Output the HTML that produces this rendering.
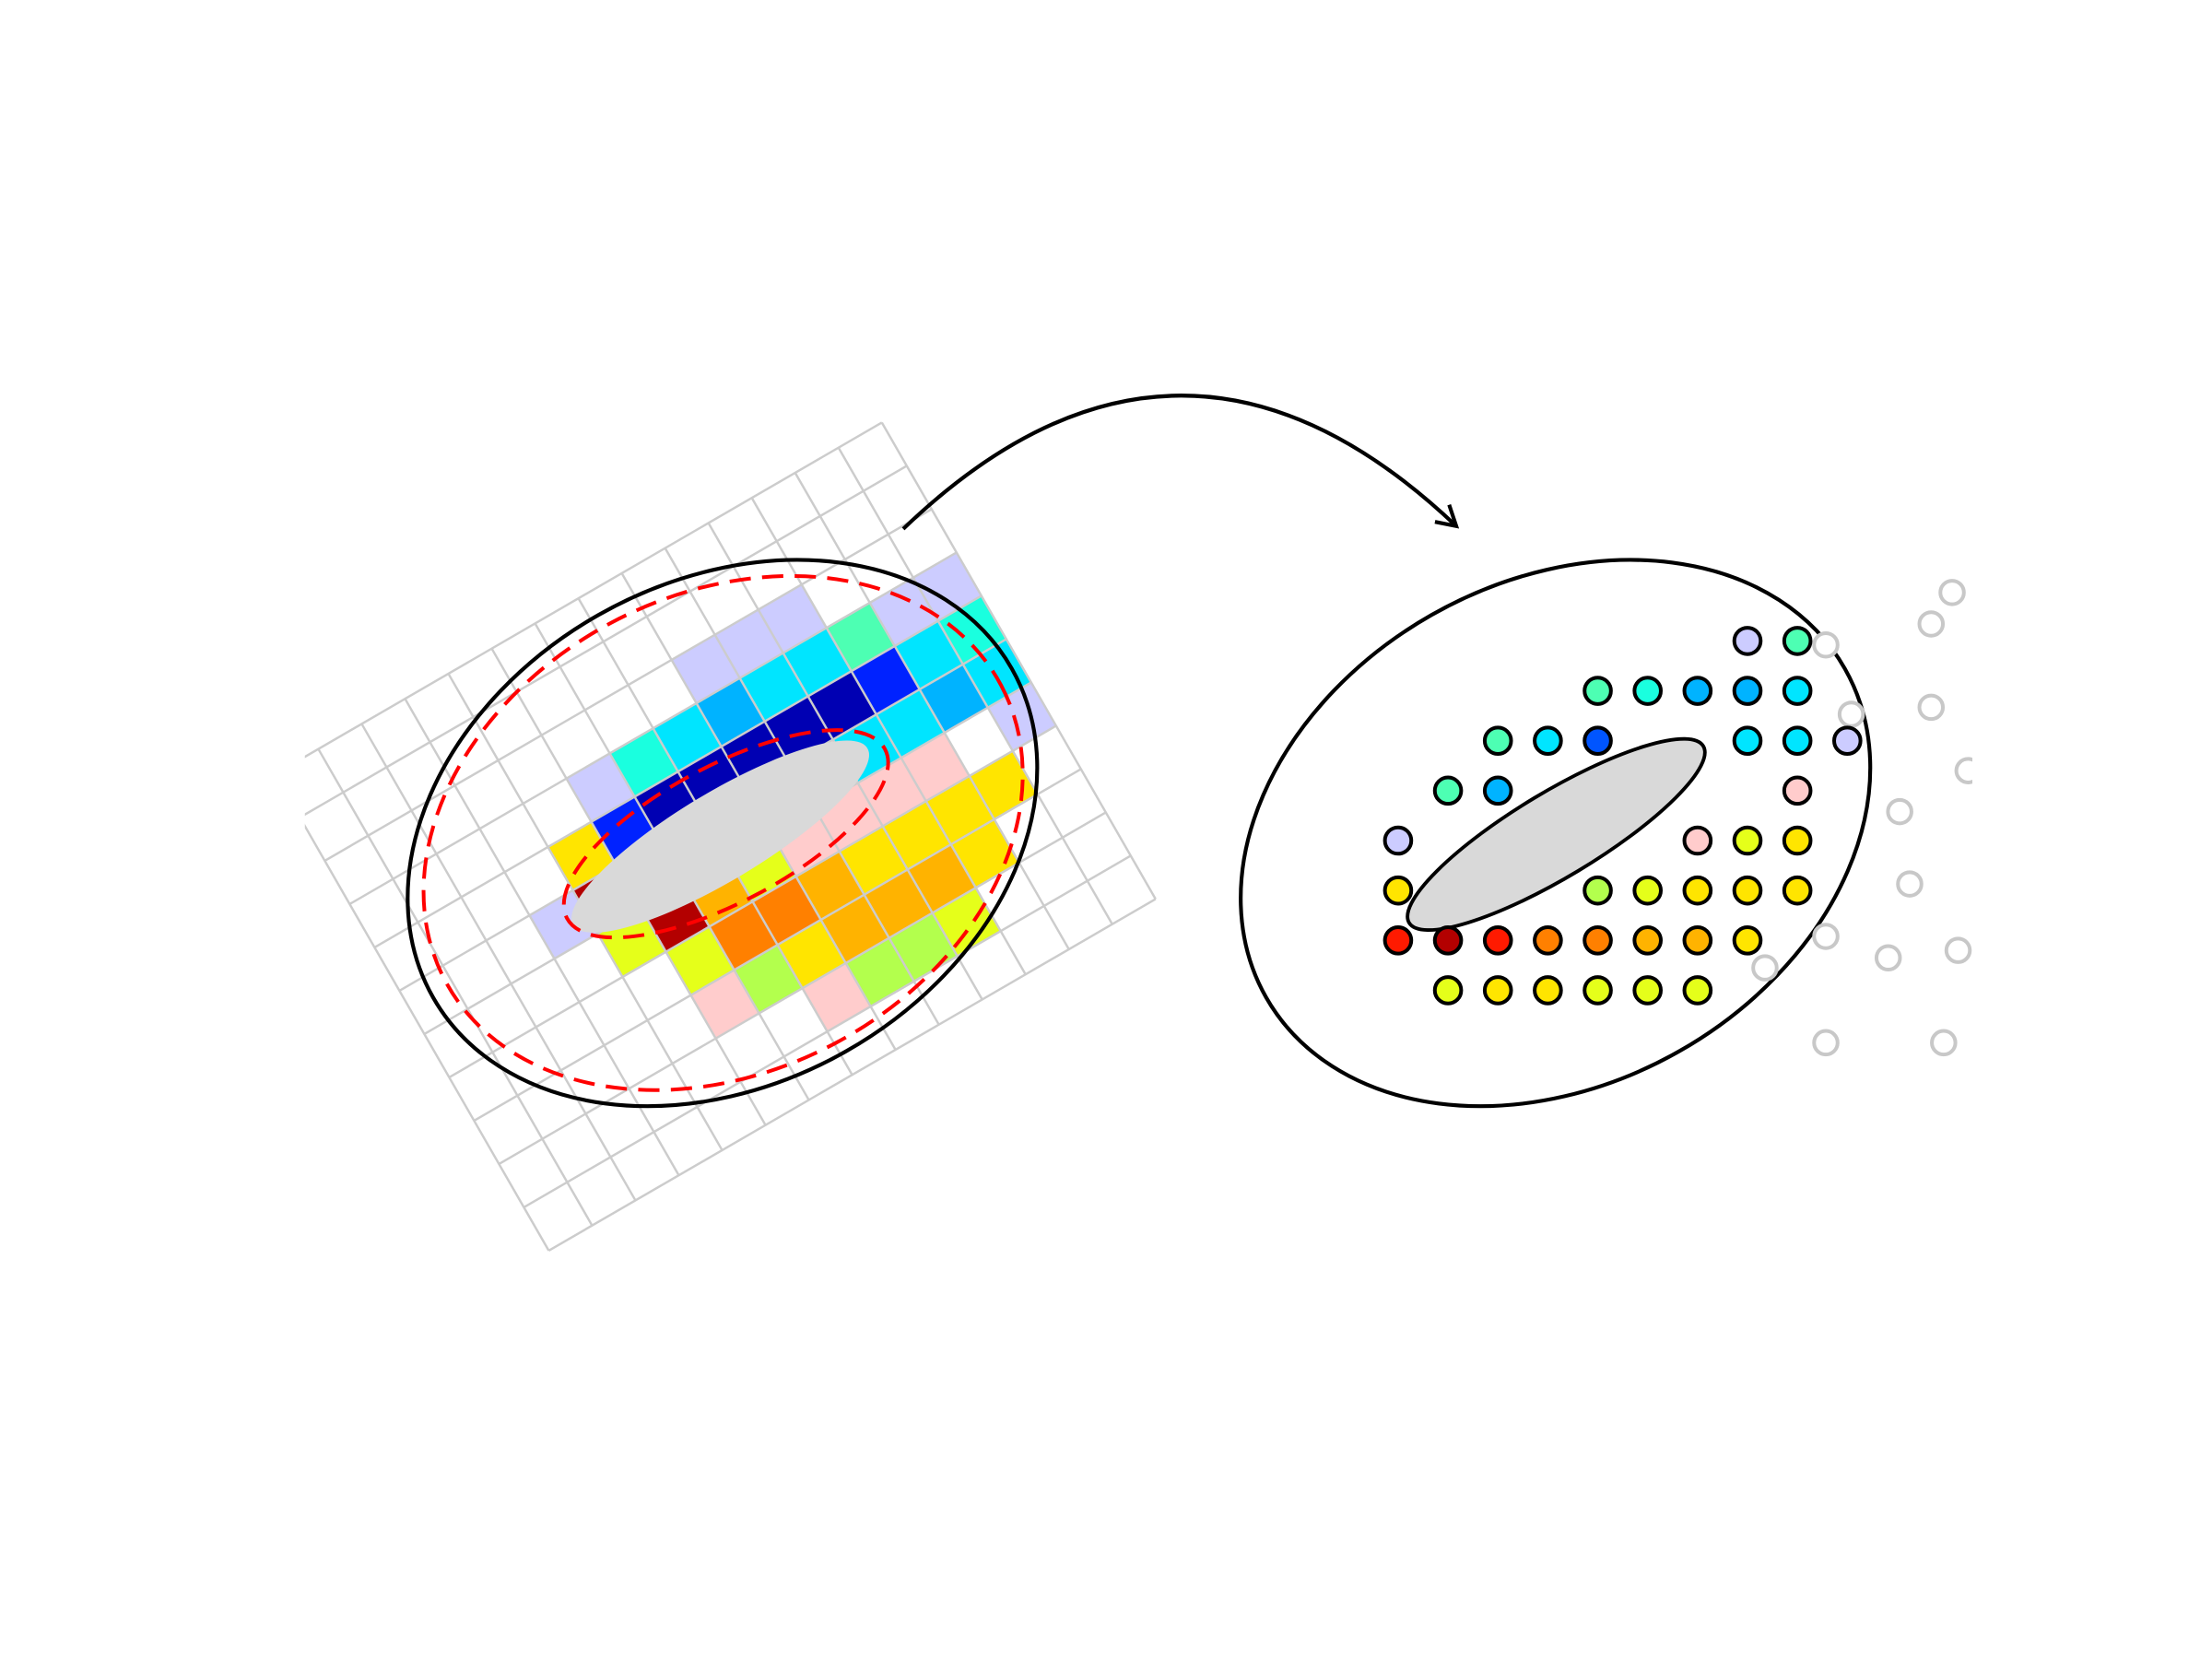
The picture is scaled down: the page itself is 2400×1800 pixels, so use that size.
<!DOCTYPE html>
<html><head><meta charset="utf-8"><style>
html,body{margin:0;padding:0;background:#fff;}
svg{display:block;}
</style></head><body>
<svg id="fig" width="2400" height="1800" viewBox="0 0 1560 1170" xmlns="http://www.w3.org/2000/svg">
<defs>
<clipPath id="clipL"><rect x="215" y="0" width="700" height="1170"/></clipPath>
<clipPath id="clipR"><rect x="860" y="0" width="531" height="1170"/></clipPath>
</defs>
<g id="left" clip-path="url(#clipL)">
<g id="cells"></g>
<g id="grid"></g>
</g>
<ellipse cx="508" cy="590" rx="121" ry="31" transform="rotate(-31 508 590)" fill="#d9d9d9"/>
<ellipse cx="512" cy="588" rx="127" ry="48" transform="rotate(-28 512 588)" fill="none" stroke="#ff0000" stroke-width="2.6" stroke-dasharray="15,8"/>
<ellipse cx="510" cy="587.5" rx="222" ry="168" transform="rotate(-28 510 587.5)" fill="none" stroke="#ff0000" stroke-width="2.6" stroke-dasharray="15,8"/>
<ellipse cx="509.5" cy="587.5" rx="234.7" ry="176.9" transform="rotate(-29.6 509.5 587.5)" fill="none" stroke="#000" stroke-width="2.7"/>
<path d="M637 373 Q832 186 1027 371" fill="none" stroke="#000" stroke-width="2.7"/>
<path d="M1012 368 L1027 371 L1022 356" fill="none" stroke="#000" stroke-width="2.7"/>
<ellipse cx="1097" cy="587.5" rx="234.7" ry="176.9" transform="rotate(-29.6 1097 587.5)" fill="none" stroke="#000" stroke-width="2.7"/>
<ellipse cx="1097.5" cy="588.5" rx="121" ry="30" transform="rotate(-31 1097.5 588.5)" fill="#d9d9d9" stroke="#000" stroke-width="2.5"/>
<g id="right" clip-path="url(#clipR)">
<g id="hollow"></g>
<g id="dots"></g>
</g>
</svg>
<script>
// ---- left heatmap data (grid cell index along u, along v, colour) ----
const cellI = [8,9,10, 5,6,7,8,9,10,11,12,13, 4,5,6,7,8,9,10,11,12,13, 3,4,5,6,7,8,9,10,11,12,13, 4,5,6,7,8,9,10,11,13, 5,6,7,8,9,10,11,12, 5,6,7,8,9,10,11, 7,8,9,10];
const cellJ = [8,8,8, 7,7,7,7,7,7,7,7,7, 6,6,6,6,6,6,6,6,6,6, 5,5,5,5,5,5,5,5,5,5,5, 4,4,4,4,4,4,4,4,4, 3,3,3,3,3,3,3,3, 2,2,2,2,2,2,2, 1,1,1,1];
const cellColor = ['#ccccff','#ccccff','#ccccff',
 '#ccccff','#1affdf','#00e5ff','#00b3ff','#00e5ff','#00e5ff','#4dffb3','#ccccff','#ccccff',
 '#ffe500','#0022ff','#0000b3','#0000b3','#0000b3','#0000b3','#0000b3','#0022ff','#00e5ff','#1affdf',
 '#ccccff','#b30000','#0000b3','#0000b3','#0000b3','#0000b3','#ffcccc','#00e5ff','#00e5ff','#00b3ff','#00e5ff',
 '#e5ff1a','#b30000','#ffb300','#e5ff1a','#ffcccc','#ffcccc','#ffcccc','#ffcccc','#ccccff',
 '#e5ff1a','#ff8000','#ff8000','#ffb300','#ffe500','#ffe500','#ffe500','#ffe500',
 '#ffcccc','#b3ff4d','#ffe500','#ffb300','#ffb300','#ffb300','#ffe500',
 '#ffcccc','#b3ff4d','#b3ff4d','#e5ff1a'];
const gridCols = 14;
const gridRows = 11;

// ---- right panel data (column, row, colour) ----
const dotCol = [7,8, 4,5,6,7,8, 2,3,4,7,8,9, 1,2,8, 0,6,7,8, 0,4,5,6,7,8, 0,1,2,3,4,5,6,7, 1,2,3,4,5,6];
const dotRow = [0,0, 1,1,1,1,1, 2,2,2,2,2,2, 3,3,3, 4,4,4,4, 5,5,5,5,5,5, 6,6,6,6,6,6,6,6, 7,7,7,7,7,7];
const dotColor = ['#ccccff','#4dffb3',
 '#4dffb3','#1affdf','#00b3ff','#00b3ff','#00e5ff',
 '#4dffb3','#00e5ff','#0055ff','#00e5ff','#00e5ff','#ccccff',
 '#4dffb3','#00b3ff','#ffcccc',
 '#ccccff','#ffcccc','#e5ff1a','#ffe500',
 '#ffe500','#b3ff4d','#e5ff1a','#ffe500','#ffe500','#ffe500',
 '#ff1a00','#b30000','#ff1a00','#ff8000','#ff8000','#ffb300','#ffb300','#ffe500',
 '#e5ff1a','#ffe500','#ffe500','#e5ff1a','#e5ff1a','#e5ff1a'];
// outside (hollow) points, in the right panel's column/row units
const hollowCol = [8.57,11.1,10.68,9.08,10.68,11.42,10.05,10.25,8.57,7.35,9.82,11.22,8.57,10.93];
const hollowRow = [0.08,-0.97,-0.34,1.47,1.33,2.6,3.42,4.87,5.92,6.55,6.35,6.2,8.05,8.05];

const NS='http://www.w3.org/2000/svg';
const B=[387,882], U=[30.57,-17.71], V=[-17.55,-30.55];
function gx(i,j){return B[0]+i*U[0]+j*V[0];}
function gy(i,j){return B[1]+i*U[1]+j*V[1];}
function dx(c){return 986+c*35.2;}
function dy(r){return 452+r*35.2;}

const cellsG=document.getElementById('cells');
for(let k=0;k<cellI.length;k++){
  const i=cellI[k], j=cellJ[k];
  const p=document.createElementNS(NS,'polygon');
  const pts=[[i,j],[i+1,j],[i+1,j+1],[i,j+1]].map(q=>gx(q[0],q[1]).toFixed(2)+','+gy(q[0],q[1]).toFixed(2)).join(' ');
  p.setAttribute('points',pts);
  p.setAttribute('fill',cellColor[k]);
  
  
  cellsG.appendChild(p);
}
const gridG=document.getElementById('grid');
function line(x1,y1,x2,y2){
  const l=document.createElementNS(NS,'line');
  l.setAttribute('x1',x1);l.setAttribute('y1',y1);l.setAttribute('x2',x2);l.setAttribute('y2',y2);
  l.setAttribute('stroke','#cccccc');l.setAttribute('stroke-width','1.6');
  
  
  gridG.appendChild(l);
}
for(let i=0;i<=gridCols;i++) line(gx(i,0),gy(i,0),gx(i,gridRows),gy(i,gridRows));
for(let j=0;j<=gridRows;j++) line(gx(0,j),gy(0,j),gx(gridCols,j),gy(gridCols,j));

const hollowG=document.getElementById('hollow');
for(let k=0;k<hollowCol.length;k++){
  const c=document.createElementNS(NS,'circle');
  c.setAttribute('cx',dx(hollowCol[k]));c.setAttribute('cy',dy(hollowRow[k]));c.setAttribute('r','8.3');
  c.setAttribute('fill','#fff');c.setAttribute('stroke','#c8c8c8');c.setAttribute('stroke-width','2.6');
  
  
  hollowG.appendChild(c);
}
const dotsG=document.getElementById('dots');
for(let k=0;k<dotCol.length;k++){
  const c=document.createElementNS(NS,'circle');
  c.setAttribute('cx',dx(dotCol[k]));c.setAttribute('cy',dy(dotRow[k]));c.setAttribute('r','9.3');
  c.setAttribute('fill',dotColor[k]);c.setAttribute('stroke','#000');c.setAttribute('stroke-width','2.6');
  
  
  dotsG.appendChild(c);
}
</script>
</body></html>
